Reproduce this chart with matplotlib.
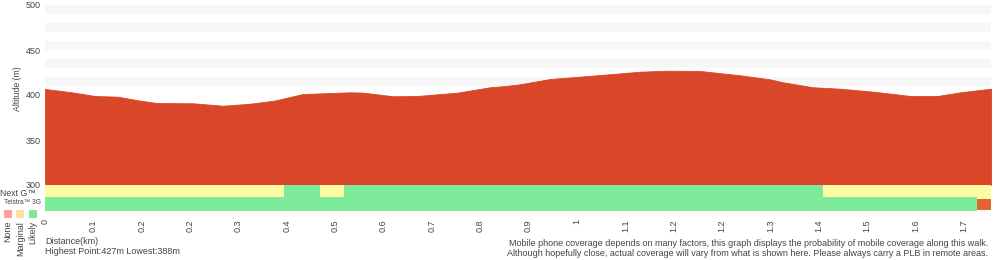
import matplotlib
matplotlib.use("Agg")
import matplotlib.pyplot as plt
from matplotlib.patches import Rectangle

plt.rcParams["font.family"] = ["Liberation Sans", "DejaVu Sans"]

# elevation profile (km, m)
dist_km = [0.0, 0.046, 0.092, 0.134, 0.175, 0.206, 0.272, 0.327, 0.377, 0.423,
           0.474, 0.561, 0.585, 0.640, 0.684, 0.758, 0.818, 0.846, 0.873, 0.929,
           1.021, 1.094, 1.144, 1.204, 1.278, 1.333, 1.357, 1.412, 1.462, 1.523,
           1.591, 1.640, 1.683, 1.739]
altitude = [406.7, 403.3, 398.9, 398.1, 393.7, 391.1, 390.8, 388.1, 390.3, 393.9,
            401.1, 403.0, 402.6, 398.6, 398.9, 402.6, 408.6, 410.0, 411.9, 417.8,
            422.2, 425.9, 427.0, 426.7, 421.9, 417.4, 414.1, 408.6, 407.0, 403.7,
            398.9, 398.9, 403.0, 407.0]

# coverage segments
nextg_start = [0.0, 0.4395, 0.5057, 0.5498, 1.4307]
nextg_end = [0.4395, 0.5057, 0.5498, 1.4307, 1.739]
nextg_level = ["marginal", "likely", "marginal", "likely", "marginal"]

g3_start = [0.0, 1.714]
g3_end = [1.714, 1.739]
g3_level = ["likely", "none"]

tick_step = 0.0889
tick_labels = ["0", "0.1", "0.2", "0.2", "0.3", "0.4", "0.5", "0.6", "0.7", "0.8",
               "0.9", "1", "1.1", "1.2", "1.2", "1.3", "1.4", "1.5", "1.6", "1.7"]
y_ticks = [300, 350, 400, 450, 500]
legend_names = ["None", "Marginal", "Likely"]
legend_colors = ["#ff9e9e", "#ffdfa8", "#80e894"]

RED = "#d94628"
band_colors = {"marginal": "#fffba3", "likely": "#7eeb9a", "none": "#e2642f"}
TXT = "#444444"
xmax = dist_km[-1]

fig = plt.figure(figsize=(10, 2.6), dpi=100)
W, H = 1000.0, 260.0

ax = fig.add_axes([45 / W, 1 - 185 / H, 946 / W, 180 / H])
for lo in range(410, 500, 20):
    ax.axhspan(lo, lo + 10, color="#f7f7f7", lw=0, zorder=0)
ax.fill_between(dist_km, 300, altitude, color=RED, lw=0.6, ec=RED, zorder=2)
ax.set_xlim(0, xmax)
ax.set_ylim(300, 500)
ax.set_yticks(y_ticks)
ax.set_yticklabels([str(v) for v in y_ticks], fontsize=6.5, color=TXT)
ax.tick_params(axis="y", length=0, pad=3)
ax.set_xticks([])
for s in ax.spines.values():
    s.set_visible(False)
fig.text(17 / W, 1 - 89 / H, "Altitude (m)", rotation=90, fontsize=6.3, color=TXT,
         ha="center", va="center")

cax = fig.add_axes([45 / W, 1 - 211 / H, 946 / W, 26 / H])
cax.set_xlim(0, xmax)
cax.set_ylim(0, 26)
for a, b, lev in zip(nextg_start, nextg_end, nextg_level):
    cax.bar(a, 14, width=b - a, bottom=12, align="edge", color=band_colors[lev], lw=0, zorder=1)
for a, b, lev in zip(g3_start, g3_end, g3_level):
    if lev == "none":
        cax.bar(a, 11, width=b - a, bottom=1, align="edge", color=band_colors[lev], lw=0, zorder=2)
    else:
        cax.bar(a, 14, width=b - a, bottom=0, align="edge", color=band_colors[lev], lw=0, zorder=2)
cax.set_yticks([])
cax.set_xticks([i * tick_step for i in range(len(tick_labels))])
cax.set_xticklabels(tick_labels, rotation=90, fontsize=6.5, color=TXT)
cax.tick_params(axis="x", length=0, pad=6)
for s in cax.spines.values():
    s.set_visible(False)

# left side labels and legend
fig.text(0 / W, 1 - 194 / H, "Next G\u2122", fontsize=6.3, color=TXT, va="center", ha="left")
fig.text(4 / W, 1 - 203 / H, "Telstra\u2122 3G", fontsize=4.8, color=TXT, va="center", ha="left")
for i, (name, col) in enumerate(zip(legend_names, legend_colors)):
    x0 = 4 + i * 12.3
    fig.patches.append(Rectangle((x0 / W, 1 - 218 / H), 8 / W, 8 / H,
                                 transform=fig.transFigure, color=col, lw=0))
    fig.text((x0 + 4) / W, 1 - 221 / H, name, rotation=90, fontsize=6.5,
             color=TXT, ha="center", va="top")

fig.text(45 / W, 1 - 242 / H, "Distance(km)", fontsize=6.5, color=TXT, va="center")
fig.text(45 / W, 1 - 252 / H, "Highest Point:427m Lowest:388m", fontsize=6.5, color=TXT, va="center")
fig.text(988 / W, 1 - 243 / H,
         "Mobile phone coverage depends on many factors, this graph displays the probability of mobile coverage along this walk.",
         fontsize=6.5, color=TXT, va="center", ha="right")
fig.text(988 / W, 1 - 253 / H,
         "Although hopefully close, actual coverage will vary from what is shown here. Please always carry a PLB in remote areas.",
         fontsize=6.5, color=TXT, va="center", ha="right")

fig.savefig("out.png", dpi=100)
